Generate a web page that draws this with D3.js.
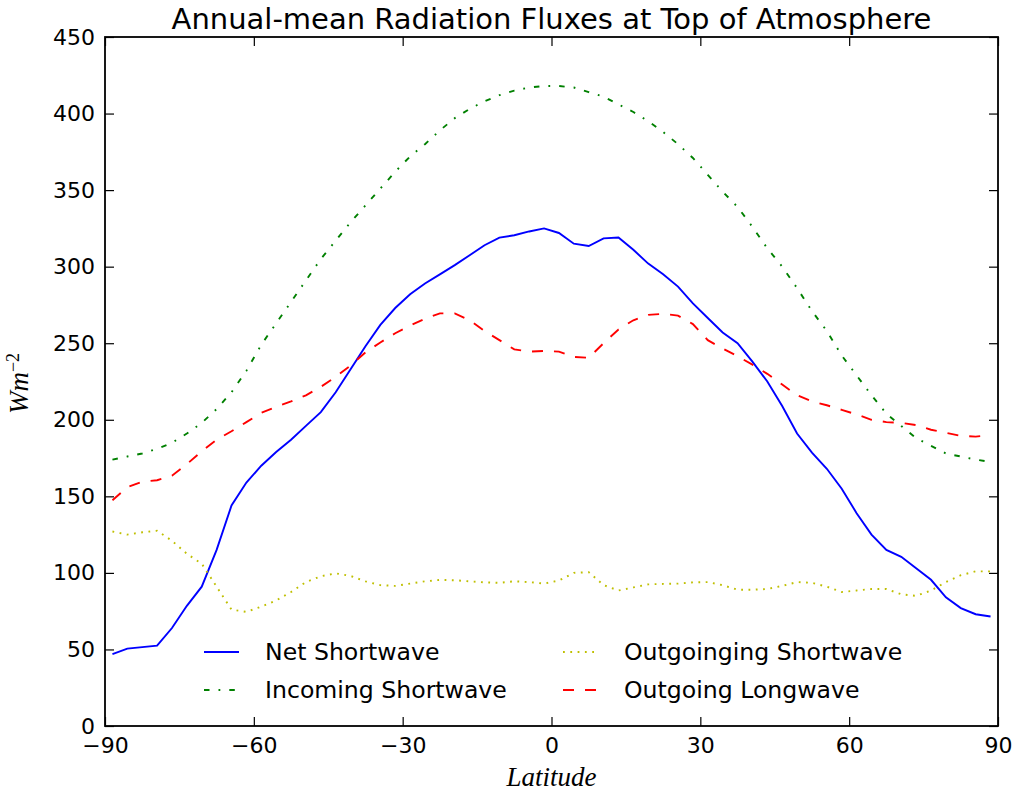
<!DOCTYPE html>
<html>
<head>
<meta charset="utf-8">
<script src="https://cdnjs.cloudflare.com/ajax/libs/d3/7.8.5/d3.min.js"></script>
<style>
  body { margin: 0; background: #fff; }
  svg { font-family: "DejaVu Sans", sans-serif; }
</style>
</head>
<body>
<svg width="1013" height="793"></svg>
<script>
'use strict';

// latitudes (deg) the curves are sampled at
var lats = [-88.5, -85.5, -82.5, -79.5, -76.5, -73.5, -70.5, -67.5, -64.5, -61.5,
            -58.5, -55.5, -52.5, -49.5, -46.5, -43.5, -40.5, -37.5, -34.5, -31.5,
            -28.5, -25.5, -22.5, -19.5, -16.5, -13.5, -10.5, -7.5, -4.5, -1.5,
            1.5, 4.5, 7.5, 10.5, 13.5, 16.5, 19.5, 22.5, 25.5, 28.5,
            31.5, 34.5, 37.5, 40.5, 43.5, 46.5, 49.5, 52.5, 55.5, 58.5,
            61.5, 64.5, 67.5, 70.5, 73.5, 76.5, 79.5, 82.5, 85.5, 88.5];

var netShortwave = [47, 50.5, 51.5, 52.5, 64, 78.5, 91, 115, 144, 159,
                    170, 179, 187, 196, 205, 218, 233, 248, 262, 273,
                    282, 289, 295, 301, 307.5, 314, 319, 320.5, 323, 325,
                    322, 315, 313.5, 318.5, 319, 311, 302, 295, 287, 276,
                    266.5, 257, 250, 238, 225, 209, 191, 178.5, 168, 155,
                    139, 125, 115, 110.5, 103, 95.5, 84, 77, 73, 71.5];

var incomingShortwave = [174, 176, 178, 181, 185, 191, 198, 207, 218, 232,
                         249, 263, 277, 291, 305, 317, 329, 340, 351, 362,
                         372, 380, 389, 397, 403, 408, 412, 415, 417, 418,
                         418, 417, 414, 411, 406, 401, 395, 388, 380, 371,
                         360, 349, 339, 326, 312, 300, 286, 271, 258, 242,
                         229, 216, 204, 196, 188, 183, 178, 176, 174, 172.5];

var outgoingShortwave = [127, 125, 126.5, 127.5, 121, 112.5, 106, 91, 76, 74.5,
                         78, 82, 87.5, 94, 97.8, 99.7, 98, 94.5, 92, 91.5,
                         93, 94.5, 95.4, 95.2, 94.5, 93.8, 93.5, 94.5, 94, 93,
                         95, 100, 100.5, 92, 88.5, 90.5, 92.5, 92.8, 93, 93.8,
                         94, 92, 89, 89, 89.5, 91.5, 94, 93.5, 91, 87.5,
                         88.5, 89.5, 89.5, 86, 85, 88.5, 94, 98.5, 101, 101];

var outgoingLongwave = [147.5, 156, 159.5, 160.5, 163.5, 171, 179.5, 187, 192.5, 198.5,
                        204.5, 208.5, 212, 216, 221.5, 228, 235.5, 244, 250.5, 256.5,
                        261.5, 266, 269.5, 269.5, 265, 258, 252, 246, 244.5, 245,
                        244.5, 241, 240.5, 250, 259, 265, 268.5, 269.2, 268, 262.5,
                        252, 246.5, 241.5, 236, 230, 223, 216, 212, 209.5, 206.5,
                        203.5, 200, 198.5, 198, 196.5, 193.5, 191.5, 189.5, 189, 190];

var seriesNames = ['Net Shortwave', 'Incoming Shortwave', 'Outgoinging Shortwave', 'Outgoing Longwave'];

var xTicks = [-90, -60, -30, 0, 30, 60, 90];
var yTicks = [0, 50, 100, 150, 200, 250, 300, 350, 400, 450];

// line styles, matplotlib classic look
var styles = [
  { color: '#0000ff', dash: null },
  { color: '#008000', dash: '5.5,9,1.8,9' },
  { color: '#bfbf00', dash: '1.8,5.5' },
  { color: '#ff0000', dash: '11,11' }
];

var series = [netShortwave, incomingShortwave, outgoingShortwave, outgoingLongwave].map(function (vals, i) {
  return {
    name: seriesNames[i],
    style: styles[i],
    points: vals.map(function (v, j) { return { lat: lats[j], val: v }; })
  };
});

var svg = d3.select('svg');
var margin = { top: 37, right: 15, bottom: 67, left: 105 };
var width = 1013 - margin.left - margin.right;
var height = 793 - margin.top - margin.bottom;

var g = svg.append('g').attr('transform', 'translate(' + margin.left + ',' + margin.top + ')');

var x = d3.scaleLinear().domain([-90, 90]).range([0, width]);
var y = d3.scaleLinear().domain([0, 450]).range([height, 0]);

var fmt = function (d) { return d < 0 ? '\u2212' + Math.abs(d) : String(d); };

var styleAxis = function (sel) {
  sel.select('.domain').remove();
  sel.selectAll('.tick line').attr('stroke', '#000').attr('stroke-width', 1.2);
  sel.selectAll('.tick text').attr('fill', '#000').style('font-size', '22px')
    .style('font-family', '"DejaVu Sans", sans-serif');
};

g.append('g').attr('transform', 'translate(0,' + height + ')')
  .call(d3.axisBottom(x).tickValues(xTicks).tickFormat(fmt).tickSize(-9).tickPadding(11))
  .call(styleAxis);
g.append('g')
  .call(d3.axisTop(x).tickValues(xTicks).tickFormat('').tickSize(-9))
  .call(styleAxis);
g.append('g')
  .call(d3.axisLeft(y).tickValues(yTicks).tickFormat(fmt).tickSize(-9).tickPadding(10))
  .call(styleAxis);
g.append('g').attr('transform', 'translate(' + width + ',0)')
  .call(d3.axisRight(y).tickValues(yTicks).tickFormat('').tickSize(-9))
  .call(styleAxis);

var line = d3.line()
  .x(function (d) { return x(d.lat); })
  .y(function (d) { return y(d.val); });

g.selectAll('.flux')
  .data(series)
  .enter().append('path')
  .attr('class', 'flux')
  .attr('d', function (d) { return line(d.points); })
  .attr('fill', 'none')
  .attr('stroke', function (d) { return d.style.color; })
  .attr('stroke-width', 1.9)
  .attr('stroke-dasharray', function (d) { return d.style.dash; });

// frame on top
g.append('rect')
  .attr('width', width).attr('height', height)
  .attr('fill', 'none').attr('stroke', '#000').attr('stroke-width', 1.8);

// legend, two columns, no frame
var legend = g.selectAll('.legend')
  .data(series)
  .enter().append('g')
  .attr('class', 'legend')
  .attr('transform', function (d, i) {
    var col = Math.floor(i / 2), row = i % 2;
    return 'translate(' + (99 + col * 359) + ',' + (615 + row * 38) + ')';
  });

legend.append('line')
  .attr('x1', 0).attr('x2', 35)
  .attr('stroke', function (d) { return d.style.color; })
  .attr('stroke-width', 1.9)
  .attr('stroke-dasharray', function (d) { return d.style.dash; });

legend.append('text')
  .attr('x', 61)
  .attr('dy', '0.35em')
  .style('font-size', '23.6px')
  .text(function (d) { return d.name; });

// title and axis labels
svg.append('text')
  .attr('x', margin.left + width / 2).attr('y', 29)
  .attr('text-anchor', 'middle')
  .style('font-size', '29px')
  .text('Annual-mean Radiation Fluxes at Top of Atmosphere');

svg.append('text')
  .attr('x', margin.left + width / 2).attr('y', 786)
  .attr('text-anchor', 'middle')
  .style('font-family', '"Liberation Serif", serif')
  .style('font-style', 'italic')
  .style('font-size', '27px')
  .text('Latitude');

var ylab = svg.append('text')
  .attr('transform', 'translate(28,' + (margin.top + height / 2 + 2) + ') rotate(-90)')
  .attr('text-anchor', 'middle')
  .style('font-family', '"Liberation Serif", serif')
  .style('font-style', 'italic')
  .style('font-size', '27px');
ylab.append('tspan').text('Wm');
ylab.append('tspan').attr('dy', '-0.5em').style('font-size', '18px').style('font-style', 'normal').text('\u22122');
</script>
</body>
</html>
